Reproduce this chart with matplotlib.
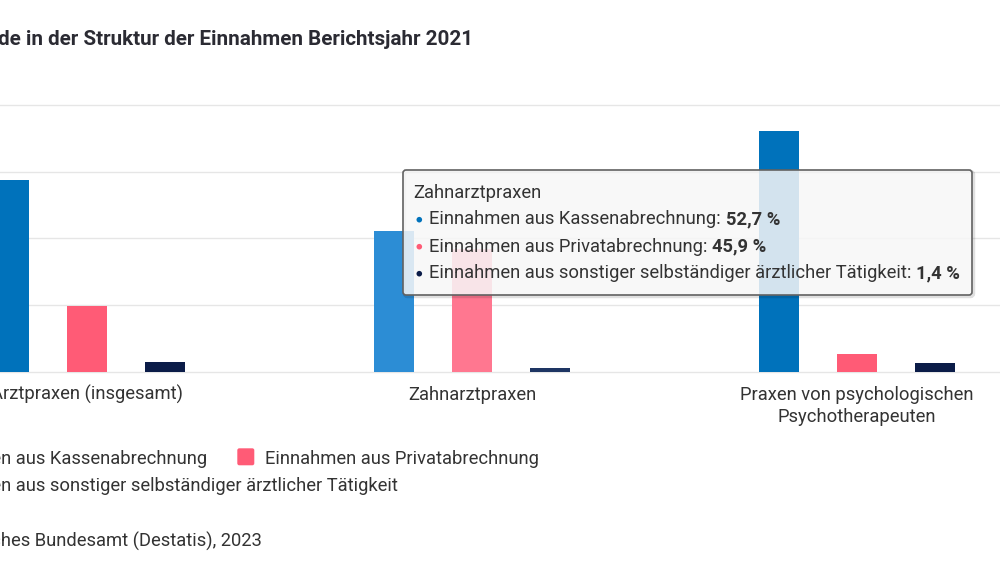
import matplotlib
matplotlib.use("Agg")
import matplotlib.pyplot as plt
from matplotlib.patches import FancyBboxPatch, Circle
from matplotlib.transforms import Affine2D, blended_transform_factory

# ---------------- data ----------------
categories = ["Arztpraxen (insgesamt)", "Zahnarztpraxen",
              "Praxen von psychologischen\nPsychotherapeuten"]
series_names = ["Einnahmen aus Kassenabrechnung",
                "Einnahmen aus Privatabrechnung",
                "Einnahmen aus sonstiger selbständiger ärztlicher Tätigkeit"]
kassen = [72.0, 52.7, 90.4]
privat = [24.5, 45.9, 6.5]
sonstige = [3.5, 1.4, 3.1]
yticks = [0, 25, 50, 75, 100]
title = "Unterschiede in der Struktur der Einnahmen Berichtsjahr 2021"
source = "Quelle: Statistisches Bundesamt (Destatis), 2023"
hovered = 1  # category shown in the tooltip

series = [kassen, privat, sonstige]
colors = ["#0072bb", "#ff5b76", "#0b1c48"]
hover_colors = ["#2c8dd5", "#ff7790", "#1e3563"]
TXT = "#333333"

plt.rcParams["font.family"] = ["Roboto", "DejaVu Sans"]

W, H = 1000, 563
fig = plt.figure(figsize=(W / 100, H / 100), dpi=100)
fig.patch.set_facecolor("white")
renderer = fig.canvas.get_renderer()
PX = Affine2D().scale(1, -1).translate(0, H)  # pixel coords, y from top


def measure(s, size, weight="normal"):
    t = fig.text(0, 0, s, fontsize=size, fontweight=weight)
    w = t.get_window_extent(renderer=renderer).width
    t.remove()
    return w


def fit(s, target, weight="normal"):
    return 12 * target / measure(s, 12, weight)


BODY = 0.5 * (fit(series_names[2] + ": 1,4 %", 531) + fit(series_names[1], 272))
TITLE = fit("de in der Struktur der Einnahmen Berichtsjahr 2021", 474, "bold")
SPACE = measure("x x", BODY) - measure("xx", BODY)

# ---------------- axes ----------------
AX_L, AX_R, AX_T, AX_B = -105.5, 1049.5, 105.2, 371.7
ax = fig.add_axes([AX_L / W, 1 - AX_B / H, (AX_R - AX_L) / W, (AX_B - AX_T) / H])
ax.set_xlim(-0.5, len(categories) - 0.5)
ax.set_ylim(0, 100)
ax.set_facecolor("none")
for s in ax.spines.values():
    s.set_visible(False)
ax.set_xticks([])
ax.set_yticks([])

for t in yticks:
    ax.axhline(t, color="#e6e6e6", lw=1.0, zorder=0, clip_on=False)

unit = (AX_R - AX_L) / len(categories)
bw = 40 / unit
off = 78 / unit
for i, (vals, c, ch, name) in enumerate(zip(series, colors, hover_colors, series_names)):
    xs = [k + (i - 1) * off for k in range(len(categories))]
    cols = [ch if k == hovered else c for k in range(len(categories))]
    ax.bar(xs, vals, width=bw, color=cols, zorder=2, label=name, linewidth=0)

# category labels
btrans = blended_transform_factory(ax.transData, PX)
for k, cat in enumerate(categories):
    for j, line in enumerate(cat.split("\n")):
        ax.text(k, 400 + 22.5 * j, line, transform=btrans, ha="center",
                va="baseline", fontsize=BODY, color=TXT, clip_on=False)

# ---------------- title ----------------
fig.text(473, 45, title, transform=PX, ha="right", va="baseline",
         fontsize=TITLE, fontweight="bold", color="#2b2b33")

# ---------------- legend ----------------
x0 = 207.3 - measure(series_names[0], BODY)
px1 = 237.3
legend_items = [(x0, 464.3, 0), (px1 + 27.7, 464.3, 1), (x0, 491.0, 2)]
for lx, ly, si in legend_items:
    sq = FancyBboxPatch((lx - 27.7, ly - 16), 17, 17,
                        boxstyle="round,pad=0,rounding_size=2",
                        transform=PX, fc=colors[si], ec="none")
    fig.add_artist(sq)
    fig.text(lx, ly, series_names[si], transform=PX, ha="left", va="baseline",
             fontsize=BODY, color=TXT)

# ---------------- source ----------------
fig.text(261.7, 546.7, source, transform=PX, ha="right", va="baseline",
         fontsize=BODY, color=TXT)

# ---------------- tooltip ----------------
tx0, ty0, tx1, ty1 = 403, 170, 972, 295
shadow = FancyBboxPatch((tx0 + 1.5, ty0 + 1.5), tx1 - tx0, ty1 - ty0,
                        boxstyle="round,pad=0,rounding_size=3", transform=PX,
                        fc="none", ec=(0, 0, 0, 0.12), lw=2.5, zorder=9)
fig.add_artist(shadow)
tip = FancyBboxPatch((tx0, ty0), tx1 - tx0, ty1 - ty0,
                     boxstyle="round,pad=0,rounding_size=3", transform=PX,
                     fc=(0.969, 0.969, 0.969, 0.86), ec="#626262", lw=1.2, zorder=10)
fig.add_artist(tip)
fig.text(413.3, 197.5, categories[hovered].replace("\n", " "), transform=PX,
         ha="left", va="baseline", fontsize=BODY, color=TXT, zorder=11)
for si, name in enumerate(series_names):
    y = 224.5 + 27 * si
    fig.add_artist(Circle((419.3, y - 4.8), 2.8, transform=PX, fc=colors[si],
                          ec="none", zorder=11))
    t = fig.text(429.3, y, name + ":", transform=PX, ha="left", va="baseline",
                 fontsize=BODY, color=TXT, zorder=11)
    w = t.get_window_extent(renderer=renderer).width
    val = f"{series[si][hovered]:.1f}".replace(".", ",") + " %"
    fig.text(429.3 + w + SPACE, y, val, transform=PX, ha="left", va="baseline",
             fontsize=BODY, fontweight="bold", color=TXT, zorder=11)

fig.savefig("out.png", dpi=100, facecolor="white")
